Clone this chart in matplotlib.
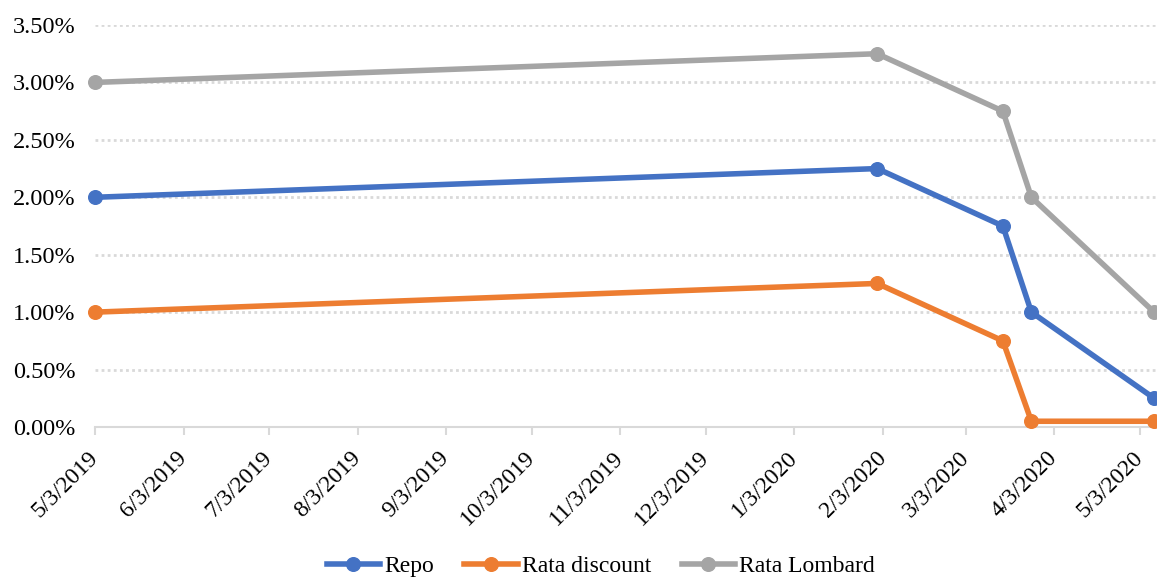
#!/usr/bin/env python3
"""
Repo, discount and Lombard rates, May 2019 - May 2020.
"""

import datetime as dt

import matplotlib
matplotlib.use("Agg")
import matplotlib.pyplot as plt
import matplotlib.dates as mdates
from matplotlib.ticker import FuncFormatter, MultipleLocator

dates = [
    dt.date(2019, 5, 3),
    dt.date(2020, 2, 1),
    dt.date(2020, 3, 16),
    dt.date(2020, 3, 26),
    dt.date(2020, 5, 8),
]
repo = [2.00, 2.25, 1.75, 1.00, 0.25]
rata_discount = [1.00, 1.25, 0.75, 0.05, 0.05]
rata_lombard = [3.00, 3.25, 2.75, 2.00, 1.00]

series_names = ["Repo", "Rata discount", "Rata Lombard"]
colors = ["#4472C4", "#ED7D31", "#A5A5A5"]


def main() -> None:
    plt.rcParams["font.family"] = ["Liberation Serif", "DejaVu Serif"]

    fig = plt.figure(figsize=(11.57, 5.77), dpi=100)
    ax = fig.add_axes([95 / 1157, 1 - 427 / 577, 1 - 95 / 1157, (427 - 25) / 577])

    for values, name, color in zip([repo, rata_discount, rata_lombard], series_names, colors):
        ax.plot(dates, values, color=color, lw=4.0, marker="o", ms=9.8,
                label=name, clip_on=False, zorder=3, solid_joinstyle="round")

    ax.set_ylim(0, 3.5)
    ax.set_xlim(dt.date(2019, 5, 3), dt.date(2020, 5, 9))
    ax.yaxis.set_major_locator(MultipleLocator(0.5))
    ax.yaxis.set_major_formatter(FuncFormatter(lambda v, _: f"{v:.2f}%"))

    ax.xaxis.set_major_locator(mdates.MonthLocator(bymonthday=3))
    ax.xaxis.set_major_formatter(FuncFormatter(
        lambda v, _: (lambda d: f"{d.month}/{d.day}/{d.year}")(mdates.num2date(v))))

    ax.grid(axis="y", color="#D9D9D9", lw=2, ls=(0, (1, 1.2)))
    ax.set_axisbelow(True)
    for side in ["top", "right", "left"]:
        ax.spines[side].set_visible(False)
    ax.spines["bottom"].set_color("#D9D9D9")
    ax.spines["bottom"].set_linewidth(1.5)

    ax.tick_params(axis="y", length=0, labelsize=17.5, pad=14)
    ax.tick_params(axis="x", length=6, width=1.5, color="#D9D9D9", labelsize=17, pad=14)
    for label in ax.get_xticklabels():
        label.set_rotation(45)
        label.set_ha("right")
        label.set_va("center")
        label.set_rotation_mode("anchor")

    # legend under the axis, slightly left of the figure centre
    fig.legend(loc="center", bbox_to_anchor=(601 / 1157, 1 - 566 / 577), ncol=3,
               frameon=False, fontsize=17, handlelength=2.25, handletextpad=0.2,
               columnspacing=1.27, borderaxespad=0)

    fig.savefig("out.png", dpi=100)


if __name__ == "__main__":
    main()
